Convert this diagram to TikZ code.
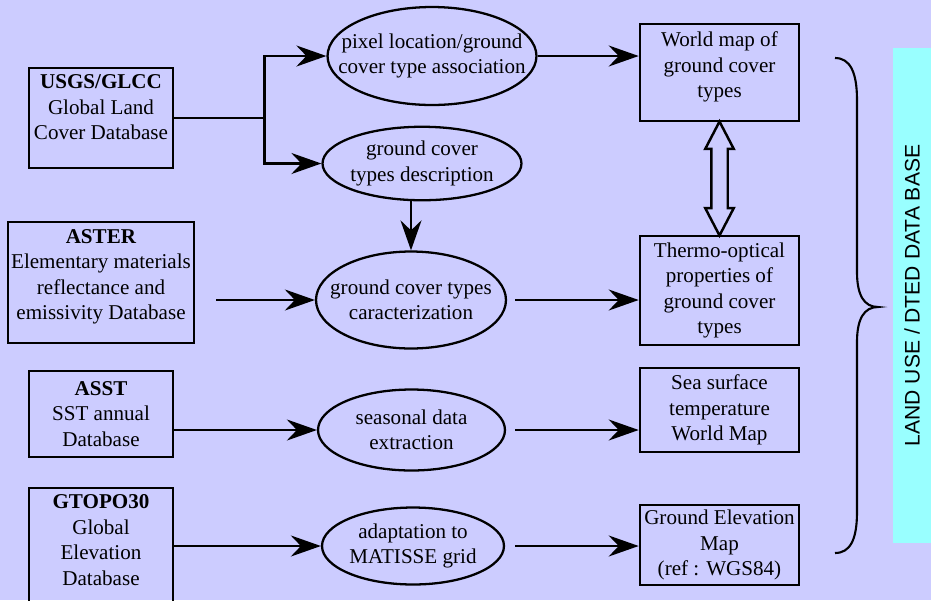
\documentclass[tikz,border=0pt]{standalone}
\usepackage{fontspec}
\setmainfont{Liberation Serif}
\newfontfamily\sidefont{Liberation Sans}
\usetikzlibrary{arrows.meta,calc,shapes.geometric,shapes.arrows}
\definecolor{bgblue}{RGB}{204,204,255}
\definecolor{sidecyan}{RGB}{153,255,255}

\begin{document}
\begin{tikzpicture}[x=0.02cm, y=-0.02cm,
		font=\fontsize{12}{14.5}\selectfont,
		dbbox/.style={draw, line width=1.5pt, inner sep=0pt, align=center},
		boxtext/.style={inner sep=0pt, align=center},
		proc/.style={draw, ellipse, line width=1.3pt, inner xsep=-1.2cm, inner ysep=-0.6cm, align=center},
		link/.style={line width=1.4pt},
		flow/.style={line width=1.4pt, -{Stealth[length=0.6cm, width=0.42cm, inset=0.2cm]}},
		dblarrow/.style={double arrow, draw, fill=bgblue, line width=1.4pt, inner sep=0.14cm,
			double arrow head extend=0.12cm, double arrow tip angle=55}]
		%%%%% START %%%%%
		
		\path[use as bounding box, fill=bgblue] (0,0) rectangle (931,600);
		
		% data bases
		\node[dbbox, minimum width=2.88cm, minimum height=2cm] (usgs) at (101,118) {};
		\node[boxtext] (usgs-t) at (101,107.5) {\textbf{USGS/GLCC}\\Global Land\\Cover Database};
		\node[dbbox, minimum width=3.72cm, minimum height=2.42cm] (aster) at (101,282.5) {};
		\node[boxtext] (aster-t) at (101,277) {\textbf{ASTER}\\Elementary materials\\reflectance and\\emissivity Database};
		\node[dbbox, minimum width=2.88cm, minimum height=1.72cm] (asst) at (101,414) {\textbf{ASST}\\SST annual\\Database};
		\node[dbbox, minimum width=2.88cm, minimum height=2.48cm] (gtopo) at (101,550) {};
		\node[boxtext] (gtopo-t) at (101,540) {\textbf{GTOPO30}\\Global\\Elevation\\Database};
		
		% processing
		\node[proc, minimum width=4.18cm, minimum height=1.96cm] (pixloc) at (432,56) {pixel location/ground\\cover type association};
		\node[proc, minimum width=3.98cm, minimum height=1.47cm] (gcdesc) at (422,163.5) {ground cover\\types description};
		\node[proc, minimum width=3.8cm, minimum height=1.94cm] (gccar) at (411,300) {ground cover types\\caracterization};
		\node[proc, minimum width=3.74cm, minimum height=1.62cm] (seas) at (411.5,430) {seasonal data\\extraction};
		\node[proc, minimum width=3.64cm, minimum height=1.54cm] (adapt) at (413,546) {adaptation to\\MATISSE grid};
		
		% products
		\node[dbbox, minimum width=3.18cm, minimum height=1.94cm] (wmap) at (719.5,72.5) {};
		\node[boxtext] (wmap-t) at (719.5,67) {World map of\\ground cover\\types};
		\node[dbbox, minimum width=3.18cm, minimum height=2.18cm] (thermo) at (719.5,290.5) {Thermo-optical\\properties of\\ground cover\\types};
		\node[dbbox, minimum width=3.18cm, minimum height=1.68cm] (sst) at (719.5,410) {Sea surface\\temperature\\World Map};
		\node[dbbox, minimum width=3.18cm, minimum height=1.6cm] (elev) at (719.5,545) {Ground Elevation\\Map\\(ref : WGS84)};
		
		\node[dblarrow, rotate=90, minimum height=2.28cm] (swap) at ($(wmap.south)!0.5!(thermo.north)$) {};
		
		% connectors
		\draw[link] (usgs.east) -- ++(90,0) coordinate (split);
		\draw[flow] (split) |- (pixloc.west);
		\draw[flow] (split) |- (gcdesc.west);
		\draw[flow] (pixloc.east) -- (pixloc.east -| wmap.west);
		\draw[flow] (gcdesc.south -| gccar.north) -- (gccar.north);
		\draw[flow, shorten <=0.42cm] (gccar.west -| aster.east) -- (gccar.west);
		\draw[flow, shorten <=0.16cm] (gccar.east) -- (gccar.east -| thermo.west);
		\draw[flow] (seas.west -| asst.east) -- (seas.west);
		\draw[flow, shorten <=0.18cm] (seas.east) -- (seas.east -| sst.west);
		\draw[flow] (adapt.west -| gtopo.east) -- (adapt.west);
		\draw[flow, shorten <=0.2cm] (adapt.east) -- (adapt.east -| elev.west);
		
		% brace and side label
		\draw[line width=1.2pt] (835,58) .. controls (850,58) and (857,72) .. (857,100) -- (857,272)
			.. controls (857,295) and (864,307) .. (878,307)
			.. controls (864,307) and (857,319) .. (857,342) -- (857,512)
			.. controls (857,540) and (850,553) .. (835,553);
		
		\node[fill=sidecyan, rotate=90, inner sep=0pt, minimum width=9.9cm, minimum height=0.76cm,
			font=\sidefont\fontsize{12}{14}\selectfont] (side) at (912,295.5) {LAND USE / DTED DATA BASE};
		
		%%%%% END %%%%%
\end{tikzpicture}
\end{document}
